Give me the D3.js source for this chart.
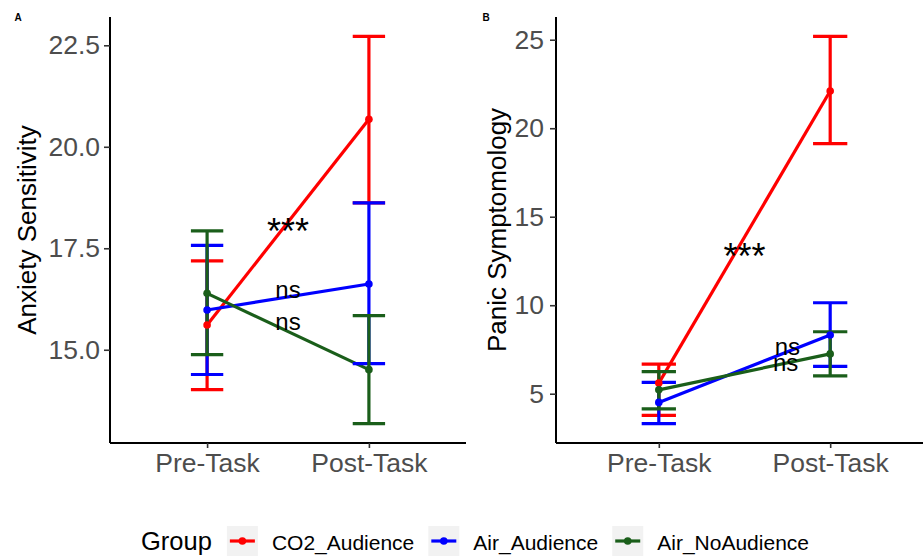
<!DOCTYPE html>
<html>
<head>
<meta charset="utf-8">
<script src="https://cdn.jsdelivr.net/npm/d3@7"></script>
<style>
  html, body { margin: 0; padding: 0; background: #ffffff; }
  svg { display: block; font-family: "Liberation Sans", Arial, Helvetica, sans-serif; }
</style>
</head>
<body>
<svg id="chart" width="923" height="558"></svg>
<script>
// ---- data ----
const timepoints = ["Pre-Task", "Post-Task"];
const groups = ["CO2_Audience", "Air_Audience", "Air_NoAudience"];

// Anxiety Sensitivity: mean and error-bar limits, one row per group (Pre, Post)
const anxietyMean  = [[15.61, 20.68], [15.98, 16.62], [16.39, 14.51]];
const anxietyLower = [[14.02, 18.62], [14.39, 14.66], [14.88, 13.18]];
const anxietyUpper = [[17.19, 22.72], [17.57, 18.62], [17.93, 15.84]];
const anxietyTicks = [15.0, 17.5, 20.0, 22.5];

// Panic Symptomology: mean and error-bar limits, one row per group (Pre, Post)
const panicMean  = [[5.60, 22.10], [4.51, 8.32], [5.22, 7.25]];
const panicLower = [[3.78, 19.13], [3.31, 6.54], [4.14, 6.01]];
const panicUpper = [[6.67, 25.19], [5.64, 10.14], [6.25, 8.50]];
const panicTicks = [5, 10, 15, 20, 25];

// significance labels: text, x position on the time axis (1 = Pre, 2 = Post), y value
const anxietySigText = ["***", "ns", "ns"];
const anxietySigX    = [1.5, 1.5, 1.5];
const anxietySigY    = [18.13, 16.48, 15.70];
const panicSigText   = ["***", "ns", "ns"];
const panicSigX      = [1.5, 1.75, 1.74];
const panicSigY      = [13.24, 7.67, 6.78];

// ---- styling ----
const colors = { CO2_Audience: "#ff0000", Air_Audience: "#0000ff", Air_NoAudience: "#1a5e1a" };
const tickFont = 26.5, titleFont = 26, sigFont = 24, starFont = 36;

const svg = d3.select("#chart");

function drawPanel(opts) {
  const { tag, tagX, left, right, top, bottom, mean, lower, upper, ticks, fmt,
          title, titleX, sigText, sigX, sigY, tickPad } = opts;

  const x = d3.scalePoint().domain(timepoints).range([left, right]).padding(0.6);
  const step = x.step();
  const xNum = t => x(timepoints[0]) + (t - 1) * step;

  const allVals = lower.flat().concat(upper.flat());
  const lo = d3.min(allVals), hi = d3.max(allVals), pad = (hi - lo) * 0.05;
  const y = d3.scaleLinear().domain([lo - pad, hi + pad]).range([bottom, top]);

  const g = svg.append("g");

  // panel tag
  g.append("text").attr("x", tagX).attr("y", 21).attr("text-anchor", "middle")
    .attr("font-size", 10).attr("font-weight", "bold").attr("fill", "#000").text(tag);

  // y axis
  const yAxis = g.append("g").attr("transform", `translate(${left},0)`)
    .call(d3.axisLeft(y).tickValues(ticks).tickFormat(d3.format(fmt)).tickSize(6).tickPadding(tickPad));
  yAxis.select(".domain").attr("d", `M0,${top}V${bottom}`);

  // x axis
  const xAxis = g.append("g").attr("transform", `translate(0,${bottom})`)
    .call(d3.axisBottom(x).tickSize(5).tickPadding(5));
  xAxis.select(".domain").attr("d", `M${left},0H${Math.min(right, 923)}`);

  [yAxis, xAxis].forEach(a => {
    a.select(".domain").attr("stroke", "#000").attr("stroke-width", 2);
    a.selectAll(".tick line").attr("stroke", "#333").attr("stroke-width", 1.6);
    a.selectAll(".tick text").attr("fill", "#4d4d4d").attr("font-size", tickFont)
      .attr("font-family", "Liberation Sans, Arial, sans-serif");
  });

  // y axis title
  g.append("text")
    .attr("transform", `translate(${titleX},${(top + bottom) / 2}) rotate(-90)`)
    .attr("text-anchor", "middle").attr("font-size", titleFont).attr("fill", "#000")
    .text(title);

  const capHalf = step * 0.1;

  // connecting lines
  groups.forEach((grp, i) => {
    g.append("path")
      .datum(timepoints.map((t, j) => [x(t), y(mean[i][j])]))
      .attr("d", d3.line())
      .attr("fill", "none").attr("stroke", colors[grp]).attr("stroke-width", 3.2);
  });

  // error bars
  groups.forEach((grp, i) => {
    timepoints.forEach((t, j) => {
      const cx = x(t), y0 = y(lower[i][j]), y1 = y(upper[i][j]);
      const eb = g.append("g").attr("stroke", colors[grp]).attr("stroke-width", 3.2);
      eb.append("line").attr("x1", cx).attr("x2", cx).attr("y1", y0).attr("y2", y1);
      eb.append("line").attr("x1", cx - capHalf).attr("x2", cx + capHalf).attr("y1", y0).attr("y2", y0);
      eb.append("line").attr("x1", cx - capHalf).attr("x2", cx + capHalf).attr("y1", y1).attr("y2", y1);
    });
  });

  // mean points
  groups.forEach((grp, i) => {
    timepoints.forEach((t, j) => {
      g.append("circle").attr("cx", x(t)).attr("cy", y(mean[i][j])).attr("r", 3.8)
        .attr("fill", colors[grp]);
    });
  });

  // significance labels (asterisks are centred on their glyphs, "ns" on the text box)
  sigText.forEach((s, k) => {
    const stars = s.startsWith("*");
    g.append("text").attr("x", xNum(sigX[k])).attr("y", y(sigY[k]))
      .attr("dy", stars ? "0.58em" : "0.35em")
      .attr("text-anchor", "middle").attr("font-size", stars ? starFont : sigFont).attr("fill", "#000")
      .text(s);
  });
}

drawPanel({
  tag: "A", tagX: 18, left: 110, right: 466, top: 17, bottom: 443,
  mean: anxietyMean, lower: anxietyLower, upper: anxietyUpper,
  ticks: anxietyTicks, fmt: ".1f", title: "Anxiety Sensitivity", titleX: 36,
  sigText: anxietySigText, sigX: anxietySigX, sigY: anxietySigY, tickPad: 4
});

drawPanel({
  tag: "B", tagX: 486, left: 556, right: 933, top: 17, bottom: 443,
  mean: panicMean, lower: panicLower, upper: panicUpper,
  ticks: panicTicks, fmt: "d", title: "Panic Symptomology", titleX: 506,
  sigText: panicSigText, sigX: panicSigX, sigY: panicSigY, tickPad: 6
});

// ---- legend ----
const legend = svg.append("g");
const legendBaseline = 550, keyTop = 526, keyW = 31, keyH = 30;
let lx = 141;
const titleText = legend.append("text").attr("x", lx).attr("y", legendBaseline)
  .attr("font-size", 25.5).attr("fill", "#000").text("Group");
lx += titleText.node().getComputedTextLength() + 15;
groups.forEach(grp => {
  legend.append("rect").attr("x", lx).attr("y", keyTop).attr("width", keyW).attr("height", keyH)
    .attr("fill", "#f2f2f2");
  const cy = keyTop + keyH / 2;
  legend.append("line").attr("x1", lx + 3).attr("x2", lx + keyW - 3).attr("y1", cy).attr("y2", cy)
    .attr("stroke", colors[grp]).attr("stroke-width", 3.2);
  legend.append("circle").attr("cx", lx + keyW / 2).attr("cy", cy).attr("r", 3.8).attr("fill", colors[grp]);
  const t = legend.append("text").attr("x", lx + keyW + 14).attr("y", legendBaseline)
    .attr("font-size", 21).attr("fill", "#000").text(grp);
  lx += keyW + 14 + t.node().getComputedTextLength() + 14;
});
</script>
</body>
</html>
